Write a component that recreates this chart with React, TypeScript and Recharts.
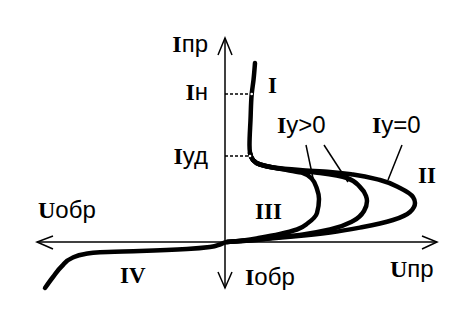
import React from "react";
import { ComposedChart, Scatter, XAxis, YAxis, ReferenceDot } from "recharts";

// Thyristor I–V characteristic (arbitrary units: U horizontal, I vertical)
const curveIy0 = [
  { x: 3.0, y: 17.9 }, { x: 2.85, y: 16.2 }, { x: 2.67, y: 14.8 }, { x: 2.55, y: 12.2 },
  { x: 2.45, y: 9.7 }, { x: 2.5, y: 8.9 }, { x: 2.8, y: 8.2 }, { x: 3.5, y: 7.75 },
  { x: 4.8, y: 7.45 }, { x: 7.5, y: 7.2 }, { x: 10.5, y: 7.0 }, { x: 12.8, y: 6.75 },
  { x: 15.5, y: 6.2 }, { x: 17.5, y: 5.4 }, { x: 18.8, y: 4.5 }, { x: 19.0, y: 3.9 },
  { x: 18.5, y: 3.0 }, { x: 16.8, y: 2.2 }, { x: 13.8, y: 1.5 }, { x: 10.5, y: 0.95 },
  { x: 6.8, y: 0.55 }, { x: 2.8, y: 0.2 }, { x: 0.2, y: 0.0 }, { x: -0.5, y: -0.25 },
  { x: -1.5, y: -0.5 }, { x: -3.8, y: -0.7 }, { x: -8.5, y: -0.9 }, { x: -12.5, y: -1.02 },
  { x: -14.0, y: -1.2 }, { x: -15.3, y: -1.6 }, { x: -16.3, y: -2.4 }, { x: -17.2, y: -3.5 },
  { x: -18.0, y: -4.6 },
];
const curveIyMid = [
  { x: 2.5, y: 8.9 }, { x: 2.8, y: 8.2 }, { x: 3.5, y: 7.75 }, { x: 4.8, y: 7.45 },
  { x: 6.2, y: 7.25 }, { x: 9.5, y: 6.9 }, { x: 12.2, y: 6.4 }, { x: 13.5, y: 5.5 },
  { x: 14.1, y: 4.6 }, { x: 14.2, y: 4.1 }, { x: 13.9, y: 3.1 }, { x: 12.8, y: 2.1 },
  { x: 10.5, y: 1.25 }, { x: 7.8, y: 0.75 }, { x: 4.5, y: 0.38 }, { x: 2.5, y: 0.15 },
  { x: 0.2, y: 0.0 },
];
const curveIyHigh = [
  { x: 2.5, y: 8.9 }, { x: 2.8, y: 8.2 }, { x: 3.5, y: 7.75 }, { x: 4.8, y: 7.45 },
  { x: 6.2, y: 7.2 }, { x: 7.8, y: 6.9 }, { x: 8.7, y: 6.3 }, { x: 9.2, y: 5.3 },
  { x: 9.4, y: 4.3 }, { x: 9.2, y: 2.9 }, { x: 8.3, y: 1.9 }, { x: 7.2, y: 1.25 },
  { x: 5.5, y: 0.8 }, { x: 3.5, y: 0.42 }, { x: 2.0, y: 0.18 }, { x: 0.2, y: 0.0 },
];

// axes and arrowheads
const axisU = [{ x: -18.8, y: 0 }, { x: 21.2, y: 0 }];
const axisI = [{ x: 0, y: 20.4 }, { x: 0, y: -4.6 }];
const arrowTop = [{ x: -0.7, y: 18.7 }, { x: 0, y: 20.4 }, { x: 0.7, y: 18.7 }];
const arrowBottom = [{ x: -0.7, y: -3.0 }, { x: 0, y: -4.6 }, { x: 0.7, y: -3.0 }];
const arrowLeft = [{ x: -17.2, y: 0.6 }, { x: -18.8, y: 0 }, { x: -17.2, y: -0.7 }];
const arrowRight = [{ x: 19.7, y: 0.6 }, { x: 21.2, y: 0 }, { x: 19.7, y: -0.7 }];

// dashed level lines
const levelIh = [{ x: 0, y: 14.8 }, { x: 2.67, y: 14.8 }];
const levelIud = [{ x: 0, y: 8.6 }, { x: 2.5, y: 8.6 }];

// leader lines
const leader1 = [{ x: 8.1, y: 9.7 }, { x: 8.9, y: 5.9 }];
const leader2 = [{ x: 9.9, y: 9.7 }, { x: 12.3, y: 6.0 }];
const leader3 = [{ x: 17.7, y: 9.7 }, { x: 16.3, y: 6.2 }];

// labels: serif head + sans tail
const labels = [
  { x: -1.7, y: 19.0, head: "I", tail: "пр", anchor: "end", roman: false },
  { x: -1.7, y: 14.2, head: "I", tail: "н", anchor: "end", roman: false },
  { x: -1.7, y: 7.8, head: "I", tail: "уд", anchor: "end", roman: false },
  { x: -18.7, y: 2.4, head: "U", tail: "обр", anchor: "start", roman: false },
  { x: 16.5, y: -3.5, head: "U", tail: "пр", anchor: "start", roman: false },
  { x: 2.0, y: -4.3, head: "I", tail: "обр", anchor: "start", roman: false },
  { x: 5.2, y: 10.9, head: "I", tail: "у>0", anchor: "start", roman: false },
  { x: 14.7, y: 10.9, head: "I", tail: "у=0", anchor: "start", roman: false },
  { x: 4.3, y: 14.9, head: "I", tail: "", anchor: "start", roman: true },
  { x: 19.3, y: 5.9, head: "II", tail: "", anchor: "start", roman: true },
  { x: 3.0, y: 2.3, head: "III", tail: "", anchor: "start", roman: true },
  { x: -10.5, y: -4.1, head: "IV", tail: "", anchor: "start", roman: true },
];

const SERIF = "'Liberation Serif', 'DejaVu Serif', serif";
const SANS = "'Liberation Sans', Arial, sans-serif";

const NoDot = () => <g />;

const LabelShape = (props: any) => {
  const { cx, cy, payload } = props;
  if (cx == null || cy == null) return <g />;
  return (
    <text x={cx} y={cy} textAnchor={payload.anchor} fontSize={23} fill="#000" fontFamily={SERIF}>
      <tspan fontFamily={SERIF} fontSize={payload.roman ? 23 : 24} fontWeight={700}>
        {payload.head}
      </tspan>
      {payload.tail ? (
        <tspan fontFamily={SANS} fontSize={24} fontWeight={400}>
          {payload.tail}
        </tspan>
      ) : null}
    </text>
  );
};

const thin = { stroke: "#000", strokeWidth: 1.5, fill: "none" };
const thick = {
  stroke: "#000",
  strokeWidth: 4.5,
  fill: "none",
  strokeLinecap: "round" as const,
  strokeLinejoin: "round" as const,
};

export default function App() {
  return (
    <div style={{ position: "absolute", left: 0, top: 0, width: 474, height: 328, background: "#fff" }}>
      <ComposedChart width={474} height={328} margin={{ top: 0, right: 0, bottom: 0, left: 0 }}>
        <XAxis type="number" dataKey="x" domain={[-22.5, 24.9]} hide allowDataOverflow />
        <YAxis type="number" dataKey="y" domain={[-8.6, 24.2]} hide allowDataOverflow />

        <Scatter data={axisU} line={thin} lineJointType="linear" shape={NoDot} isAnimationActive={false} />
        <Scatter data={axisI} line={thin} lineJointType="linear" shape={NoDot} isAnimationActive={false} />
        <Scatter data={arrowTop} line={thin} lineJointType="linear" shape={NoDot} isAnimationActive={false} />
        <Scatter data={arrowBottom} line={thin} lineJointType="linear" shape={NoDot} isAnimationActive={false} />
        <Scatter data={arrowLeft} line={thin} lineJointType="linear" shape={NoDot} isAnimationActive={false} />
        <Scatter data={arrowRight} line={thin} lineJointType="linear" shape={NoDot} isAnimationActive={false} />

        <Scatter data={levelIh} line={{ ...thin, strokeDasharray: "3 2" }} lineJointType="linear" shape={NoDot} isAnimationActive={false} />
        <Scatter data={levelIud} line={{ ...thin, strokeDasharray: "3 2" }} lineJointType="linear" shape={NoDot} isAnimationActive={false} />

        <Scatter data={leader1} line={thin} lineJointType="linear" shape={NoDot} isAnimationActive={false} />
        <Scatter data={leader2} line={thin} lineJointType="linear" shape={NoDot} isAnimationActive={false} />
        <Scatter data={leader3} line={thin} lineJointType="linear" shape={NoDot} isAnimationActive={false} />

        <Scatter data={curveIyHigh} line={thick} lineJointType="monotoneY" shape={NoDot} isAnimationActive={false} />
        <Scatter data={curveIyMid} line={thick} lineJointType="monotoneY" shape={NoDot} isAnimationActive={false} />
        <Scatter data={curveIy0} line={thick} lineJointType="monotoneY" shape={NoDot} isAnimationActive={false} />

        <ReferenceDot x={2.67} y={14.8} r={1.3} fill="#fff" stroke="none" />
        <ReferenceDot x={2.5} y={8.6} r={1.3} fill="#fff" stroke="none" />

        <Scatter data={labels} shape={LabelShape} isAnimationActive={false} />
      </ComposedChart>
    </div>
  );
}
